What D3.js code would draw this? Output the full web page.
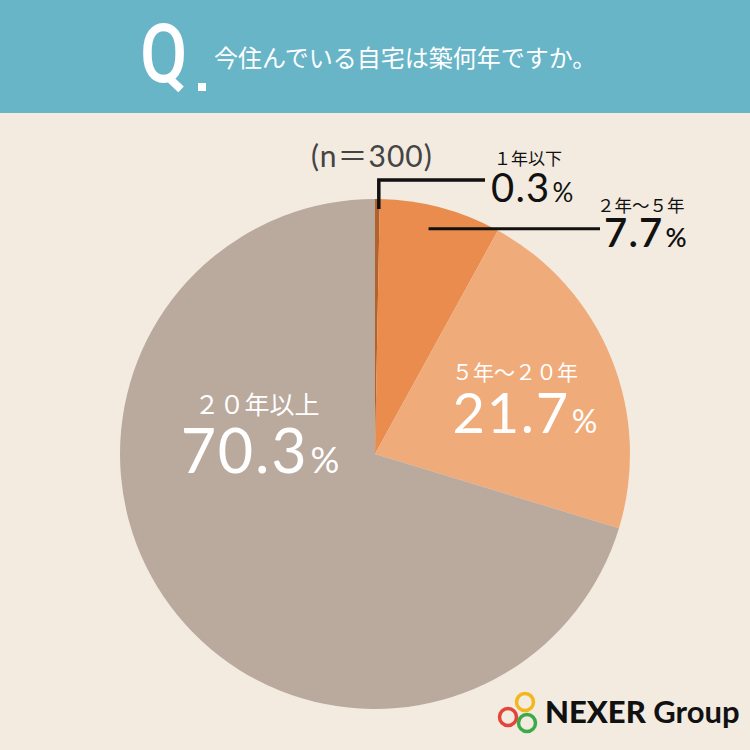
<!DOCTYPE html>
<html>
<head>
<meta charset="utf-8">
<script src="https://cdn.jsdelivr.net/npm/d3@7"></script>
<style>
  html, body { margin: 0; padding: 0; background: #f3ebe0; }
  svg { display: block; }
</style>
</head>
<body>
<div id="chart"></div>
<script>
// data
const categories = ["１年以下", "２年〜５年", "５年〜２０年", "２０年以上"];
const values = [0.3, 7.7, 21.7, 70.3];
const colors = ["#b3622b", "#e98c4e", "#f0ab7b", "#baa99d"];
const title = "今住んでいる自宅は築何年ですか。";
const sampleNote = "(n＝300)";

const width = 750,
      height = 750;

const svg = d3.select("#chart")
  .append("svg")
    .attr("width", width)
    .attr("height", height);

svg.append("rect")
    .attr("width", width)
    .attr("height", height)
    .attr("fill", "#f3ebe0");

// header band
svg.append("rect")
    .attr("width", width)
    .attr("height", 113)
    .attr("fill", "#68b5c8");

svg.append("text")
    .attr("x", 0)
    .attr("y", 0)
    .attr("fill", "#fff")
    .attr("font-family", "Roboto")
    .attr("font-weight", 500)
    .attr("font-size", 82)
    .attr("transform", "translate(140,82) scale(0.84,1)")
    .text("Q");

svg.append("rect")
    .attr("x", 198)
    .attr("y", 83)
    .attr("width", 8)
    .attr("height", 8)
    .attr("fill", "#fff");

svg.append("text")
    .attr("x", 214)
    .attr("y", 67)
    .attr("fill", "#fff")
    .attr("font-family", "'Noto Sans CJK JP'")
    .attr("font-size", 24)
    .text(title);

// pie
const cx = 375, cy = 454, radius = 255;

const pie = d3.pie().sort(null).value(d => d);
const arcs = pie(values);

const arc = d3.arc().innerRadius(0).outerRadius(radius);

const g = svg.append("g")
    .attr("transform", `translate(${cx},${cy})`);

g.selectAll("path")
  .data(arcs)
  .enter()
  .append("path")
    .attr("d", arc)
    .attr("fill", (d, i) => colors[i]);

const pointAt = (angle, r) => [cx + r * Math.sin(angle), cy - r * Math.cos(angle)];
const mid = d => (d.startAngle + d.endAngle) / 2;

// leader lines for the two small slices
const p0 = pointAt(mid(arcs[0]), 245);
svg.append("path")
    .attr("d", `M${p0[0] + 1.5},${p0[1]} V180 H485`)
    .attr("fill", "none")
    .attr("stroke", "#111")
    .attr("stroke-width", 3.5);

const p1 = pointAt(mid(arcs[1]), 231);
svg.append("path")
    .attr("d", `M${p1[0] - 6},${p1[1] - 2} H600`)
    .attr("fill", "none")
    .attr("stroke", "#111")
    .attr("stroke-width", 3);

const numFont = "Lato, 'Noto Sans CJK JP'";
const jpFont = "'Noto Sans CJK JP'";

function valueLabel(x, y, v, size, pctSize, fill, anchor, weight) {
  const t = svg.append("text")
      .attr("x", x)
      .attr("y", y)
      .attr("fill", fill)
      .attr("font-family", numFont)
      .attr("font-weight", weight || 400)
      .attr("text-anchor", anchor);
  t.append("tspan")
      .attr("font-size", size)
      .attr("letter-spacing", size * 0.03)
      .text(v.toFixed(1));
  t.append("tspan").attr("font-size", pctSize).attr("dx", 2).text("%");
}

function catLabel(x, y, text, size, fill, anchor) {
  svg.append("text")
      .attr("x", x)
      .attr("y", y)
      .attr("fill", fill)
      .attr("font-family", jpFont)
      .attr("font-size", size)
      .attr("text-anchor", anchor)
      .text(text);
}

// outside labels
catLabel(494, 165, categories[0], 17, "#111", "start");
valueLabel(491, 202, values[0], 40, 26, "#111", "start");

catLabel(597, 212, categories[1], 17.5, "#111", "start");
valueLabel(604, 247, values[1], 40, 26, "#111", "start", 600);

// inside labels
catLabel(515, 380, categories[2], 21, "#fff", "middle");
valueLabel(525, 433, values[2], 56, 32, "#fff", "middle");

catLabel(257, 414, categories[3], 25, "#fff", "middle");
valueLabel(260, 473, values[3], 61, 36, "#fff", "middle");

// sample size
svg.append("text")
    .attr("x", 311)
    .attr("y", 167)
    .attr("fill", "#444")
    .attr("font-family", numFont)
    .attr("font-size", 30)
    .attr("letter-spacing", 1)
    .text(sampleNote);

// logo
const rings = [
  { x: 508, y: 717, c: "#e4453a" },
  { x: 525, y: 702, c: "#f2b71f" },
  { x: 527, y: 723, c: "#3daa4a" }
];
svg.append("g")
  .selectAll("circle")
  .data(rings)
  .enter()
  .append("circle")
    .attr("cx", d => d.x)
    .attr("cy", d => d.y)
    .attr("r", 8.5)
    .attr("fill", "none")
    .attr("stroke", d => d.c)
    .attr("stroke-width", 3.5);

const logo = svg.append("text")
    .attr("x", 545)
    .attr("y", 723)
    .attr("fill", "#111")
    .attr("font-family", "Lato")
    .attr("font-size", 31);
logo.append("tspan").attr("font-weight", 900).text("NEXER");
logo.append("tspan").attr("font-weight", 700).text(" Group");
</script>
</body>
</html>
